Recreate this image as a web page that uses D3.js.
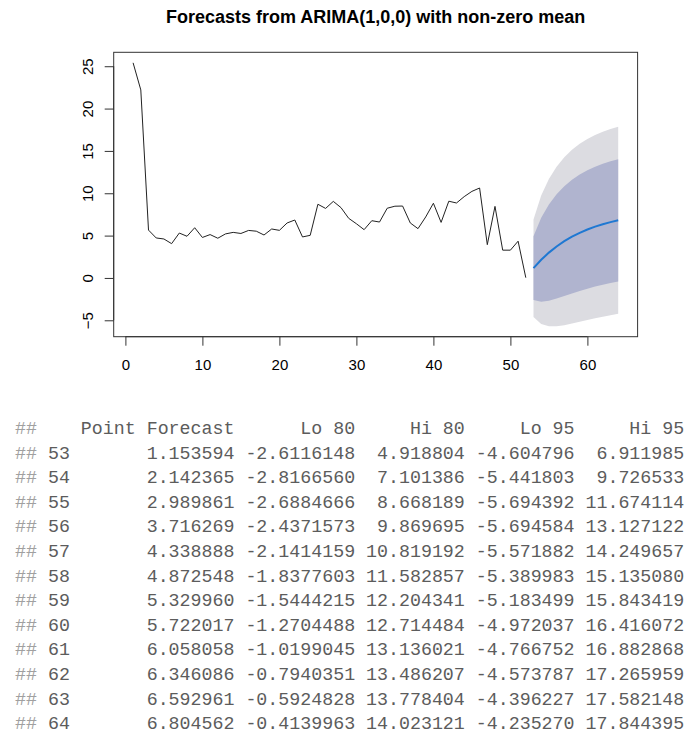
<!DOCTYPE html>
<html>
<head>
<meta charset="utf-8">
<script src="https://cdn.jsdelivr.net/npm/d3@7"></script>
<style>
  html, body { margin: 0; padding: 0; background: #fff; }
  svg { display: block; }
</style>
</head>
<body>
<svg id="chart" width="695" height="749"></svg>
<script>
// ---- Data ----
const title = "Forecasts from ARIMA(1,0,0) with non-zero mean";

const history = [25.4, 22.2, 5.65, 4.72, 4.6, 4.05, 5.3, 4.92, 5.93, 4.78,
  5.12, 4.69, 5.2, 5.38, 5.25, 5.61, 5.52, 5.07, 5.78, 5.62,
  6.49, 6.84, 4.84, 5.03, 8.7, 8.21, 9.04, 8.3, 7.04, 6.4,
  5.7, 6.76, 6.6, 8.23, 8.47, 8.49, 6.49, 5.82, 7.2, 8.82,
  6.56, 9.06, 8.85, 9.6, 10.22, 10.62, 3.93, 8.45, 3.28, 3.28,
  4.34, 0.03];

const forecastPeriods = [53, 54, 55, 56, 57, 58, 59, 60, 61, 62, 63, 64];
const pointForecast = [1.153594, 2.142365, 2.989861, 3.716269, 4.338888, 4.872548,
  5.329960, 5.722017, 6.058058, 6.346086, 6.592961, 6.804562];
const lo80 = [-2.6116148, -2.8166560, -2.6884666, -2.4371573, -2.1414159, -1.8377603,
  -1.5444215, -1.2704488, -1.0199045, -0.7940351, -0.5924828, -0.4139963];
const hi80 = [4.918804, 7.101386, 8.668189, 9.869695, 10.819192, 11.582857,
  12.204341, 12.714484, 13.136021, 13.486207, 13.778404, 14.023121];
const lo95 = [-4.604796, -5.441803, -5.694392, -5.694584, -5.571882, -5.389983,
  -5.183499, -4.972037, -4.766752, -4.573787, -4.396227, -4.235270];
const hi95 = [6.911985, 9.726533, 11.674114, 13.127122, 14.249657, 15.135080,
  15.843419, 16.416072, 16.882868, 17.265959, 17.582148, 17.844395];

const xTicks = [0, 10, 20, 30, 40, 50, 60];
const yTicks = [-5, 0, 5, 10, 15, 20, 25];
const tableHeader = ["Point Forecast", "Lo 80", "Hi 80", "Lo 95", "Hi 95"];

// ---- Layout ----
const svg = d3.select("#chart");
const plot = { left: 113.7, right: 637.6, top: 52.3, bottom: 336.7 };

const allX = d3.range(1, history.length + 1).concat(forecastPeriods);
const xMin = d3.min(allX), xMax = d3.max(allX);
const xPad = (xMax - xMin) * 0.04;
const allY = history.concat(lo95, hi95);
const yMin = d3.min(allY), yMax = d3.max(allY);
const yPad = (yMax - yMin) * 0.04;

const x = d3.scaleLinear().domain([xMin - xPad, xMax + xPad]).range([plot.left, plot.right]);
const y = d3.scaleLinear().domain([yMin - yPad, yMax + yPad]).range([plot.bottom, plot.top]);

// Title
svg.append("text")
  .attr("x", (plot.left + plot.right) / 2)
  .attr("y", 23)
  .attr("text-anchor", "middle")
  .style("font-family", "'Liberation Sans', Arial, sans-serif")
  .style("font-weight", "bold")
  .style("font-size", "18px")
  .attr("fill", "#000")
  .text(title);

// Bands
const fc = forecastPeriods.map((p, i) => ({ p, m: pointForecast[i], l80: lo80[i], h80: hi80[i], l95: lo95[i], h95: hi95[i] }));

svg.append("path")
  .datum(fc)
  .attr("fill", "#dcdce1")
  .attr("d", d3.area().x(d => x(d.p)).y0(d => y(d.l95)).y1(d => y(d.h95)));

svg.append("path")
  .datum(fc)
  .attr("fill", "#b0b4cf")
  .attr("d", d3.area().x(d => x(d.p)).y0(d => y(d.l80)).y1(d => y(d.h80)));

// Forecast mean
svg.append("path")
  .datum(fc)
  .attr("fill", "none")
  .attr("stroke", "#1f78d2")
  .attr("stroke-width", 2)
  .attr("d", d3.line().x(d => x(d.p)).y(d => y(d.m)));

// History
svg.append("path")
  .datum(history)
  .attr("fill", "none")
  .attr("stroke", "#222")
  .attr("stroke-width", 1)
  .attr("stroke-linejoin", "round")
  .attr("d", d3.line().x((d, i) => x(i + 1)).y(d => y(d)));

// Box
svg.append("rect")
  .attr("x", plot.left).attr("y", plot.top)
  .attr("width", plot.right - plot.left).attr("height", plot.bottom - plot.top)
  .attr("fill", "none").attr("stroke", "#333").attr("stroke-width", 1);

// Axes
const xAxis = d3.axisBottom(x).tickValues(xTicks).tickSize(9).tickPadding(14).tickFormat(d3.format("d"));
const gx = svg.append("g").attr("transform", `translate(0,${plot.bottom})`).call(xAxis);
gx.select(".domain").attr("d", `M${x(xTicks[0])},0H${x(xTicks[xTicks.length - 1])}`).attr("stroke", "#333");
gx.selectAll(".tick line").attr("stroke", "#333");
gx.selectAll("text")
  .style("font-family", "'Liberation Sans', Arial, sans-serif")
  .style("font-size", "15px").attr("fill", "#000");

const yAxis = d3.axisLeft(y).tickValues(yTicks).tickSize(9).tickFormat(d3.format("d"));
const gy = svg.append("g").attr("transform", `translate(${plot.left},0)`).call(yAxis);
gy.select(".domain").attr("d", `M0,${y(yTicks[0])}V${y(yTicks[yTicks.length - 1])}`).attr("stroke", "#333");
gy.selectAll(".tick line").attr("stroke", "#333");
gy.selectAll("text")
  .attr("x", 0).attr("dy", null).attr("y", 0)
  .attr("text-anchor", "middle")
  .attr("transform", "translate(-26,0) rotate(-90)")
  .attr("dominant-baseline", "central")
  .style("font-family", "'Liberation Sans', Arial, sans-serif")
  .style("font-size", "15px").attr("fill", "#000");

// Console-style table
const widths = [14, 10, 9, 9, 9];
const decimals = [6, 7, 6, 6, 6];
const cols = [pointForecast, lo80, hi80, lo95, hi95];
const rowNameW = d3.max(forecastPeriods, p => String(p).length);

const lines = [];
lines.push(" ".repeat(rowNameW) + tableHeader.map((h, j) => " " + h.padStart(widths[j])).join(""));
forecastPeriods.forEach((p, i) => {
  lines.push(String(p).padEnd(rowNameW) + cols.map((c, j) => " " + c[i].toFixed(decimals[j]).padStart(widths[j])).join(""));
});

const tbl = svg.append("g")
  .style("font-family", "'Liberation Mono', 'Courier New', monospace")
  .style("font-size", "18.3px");

lines.forEach((ln, i) => {
  const t = tbl.append("text")
    .attr("x", 15)
    .attr("y", 434 + i * 24.6)
    .attr("xml:space", "preserve")
    .style("white-space", "pre");
  t.append("tspan").attr("fill", "#a0a0a0").text("##");
  t.append("tspan").attr("fill", "#5c5c5c").text(" " + ln);
});
</script>
</body>
</html>
